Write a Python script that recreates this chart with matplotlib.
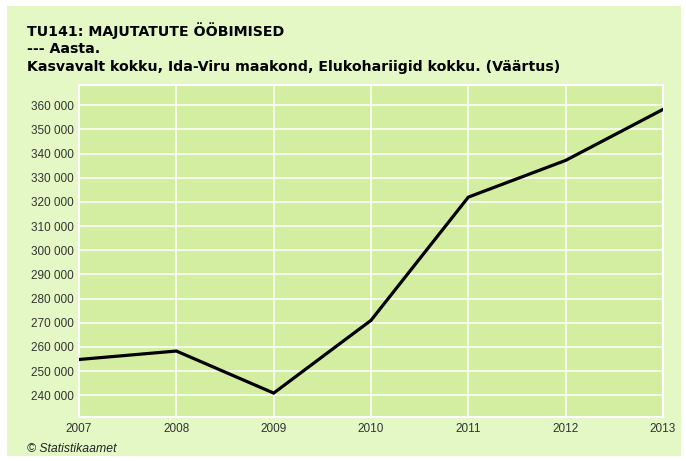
import matplotlib
matplotlib.use("Agg")
import matplotlib.pyplot as plt
from matplotlib.patches import Rectangle
from matplotlib.ticker import FuncFormatter

years = [2007, 2008, 2009, 2010, 2011, 2012, 2013]
values = [254800, 258300, 240900, 271000, 322000, 337200, 358300]
yticks = list(range(240000, 360001, 10000))

W, H = 686, 461
fig = plt.figure(figsize=(W / 100, H / 100), dpi=100)
fig.patch.set_facecolor("white")

# light green panel behind everything
fig.patches.append(Rectangle((7 / W, 1 - 456 / H), 674 / W, 450 / H,
                             transform=fig.transFigure, facecolor="#e3f8c5",
                             edgecolor="none", zorder=-5))

ax = fig.add_axes([79 / W, 1 - 417 / H, (663 - 79) / W, (417 - 85) / H])
ax.set_facecolor("#d3eea0")
ax.plot(years, values, color="black", lw=2.3, solid_joinstyle="miter", zorder=3)

ax.set_xlim(2007, 2013)
ax.set_ylim(231000, 368400)
ax.set_xticks(years)
ax.set_yticks(yticks)
ax.yaxis.set_major_formatter(FuncFormatter(lambda v, p: f"{int(v):,}".replace(",", " ")))
ax.grid(True, color="white", lw=1.1)
ax.set_axisbelow(True)
for s in ax.spines.values():
    s.set_color("white")
    s.set_linewidth(1.5)
ax.tick_params(length=0, labelsize=8.5, labelcolor="#333333", pad=4)
ax.tick_params(axis="x", pad=4)
for lbl in ax.get_xticklabels() + ax.get_yticklabels():
    lbl.set_family("Liberation Sans")

title_font = dict(family="DejaVu Sans", fontsize=10.15, fontweight="bold", color="black")
fig.text(27 / W, 1 - 31 / H, "TU141: MAJUTATUTE ÖÖBIMISED", va="center", **title_font)
fig.text(27 / W, 1 - 49 / H, "--- Aasta.", va="center", **title_font)
fig.text(27 / W, 1 - 67 / H, "Kasvavalt kokku, Ida-Viru maakond, Elukohariigid kokku. (Väärtus)",
         va="center", **title_font)
fig.text(27 / W, 1 - 449 / H, "© Statistikaamet", va="center", family="Liberation Sans",
         fontsize=8.8, style="italic", color="#222222")

fig.savefig("out.png", dpi=100, facecolor=fig.get_facecolor())
